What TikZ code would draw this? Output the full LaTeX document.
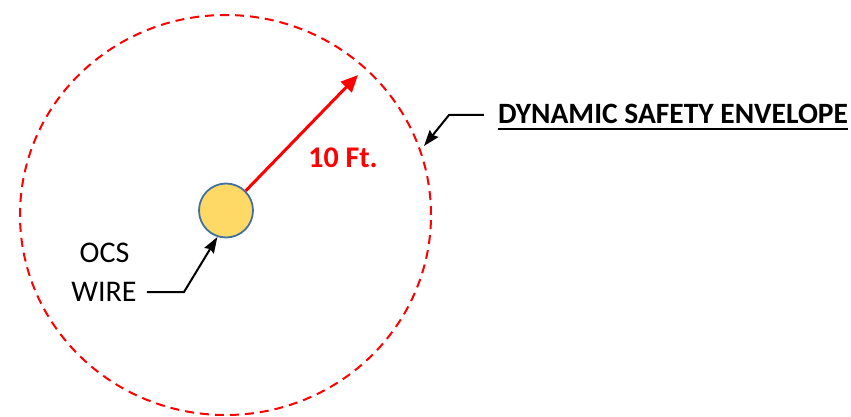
\documentclass[tikz,border=0pt]{standalone}
\usepackage{fontspec}
\setmainfont{Carlito}
\usetikzlibrary{arrows.meta,shapes.geometric,positioning}
\definecolor{wirefill}{HTML}{FFD966}
\definecolor{wireedge}{HTML}{41719C}

\begin{document}
\begin{tikzpicture}[x=1pt,y=-1pt,
        labeltext/.style={font=\fontsize{30}{34}\selectfont, inner sep=0pt},
        pointer/.style={line width=2pt, -{Stealth[length=16pt,width=11pt,inset=2pt]}}]
        \useasboundingbox (0,0) rectangle (851,417);
        % Draw envelope
        \node[ellipse, draw=red, line width=2pt, dash pattern=on 9pt off 6pt,
              minimum width=411pt, minimum height=400pt, inner sep=0pt] (envelope) at (225.5,215) {};
        % Draw wire
        \node[circle, draw=wireedge, fill=wirefill, line width=1.8pt,
              minimum size=54pt, inner sep=0pt] (wire) at (226,210.5) {};
        % Draw radius
        \coordinate (radtip) at (358,75);
        \draw[red, line width=3pt, -{Triangle[length=17pt,width=15pt]}] (wire.45) -- (radtip);
        \node[labeltext, font=\fontsize{30}{34}\selectfont\bfseries, text=red] (radius) at (343,158) {10 Ft.};
        % Add labels
        \node[labeltext] (ocs) at (104.5,252.5) {OCS};
        \node[labeltext] (wirename) at (104,291.5) {WIRE};
        \node[labeltext, font=\fontsize{29.5}{34}\selectfont\bfseries] (envname) at (673,113.5) {DYNAMIC SAFETY ENVELOPE};
        \draw[line width=2pt] ([yshift=-6pt]envname.base west) -- ([yshift=-6pt]envname.base east);
        % Draw pointers
        \coordinate (wirebend) at (184,292);
        \coordinate (envbend) at (449,115);
        \coordinate (envtip) at (424,146);
        \draw[pointer, shorten <=10pt] (wirename.east |- wirebend) -- (wirebend) -- (wire.252);
        \draw[pointer, shorten <=14pt] (envname.west |- envbend) -- (envbend) -- (envtip);
\end{tikzpicture}
\end{document}
